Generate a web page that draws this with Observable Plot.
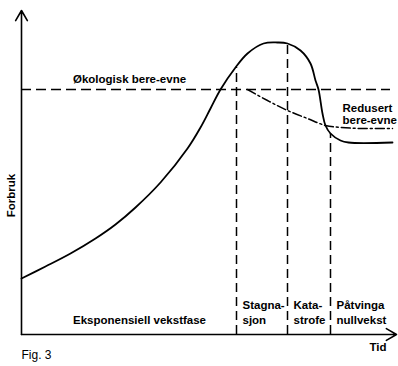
<!DOCTYPE html>
<html><head><meta charset="utf-8">
<script src="https://cdn.jsdelivr.net/npm/d3@7"></script>
<script src="https://cdn.jsdelivr.net/npm/@observablehq/plot@0.6"></script>
<style>body{margin:0;background:#fff}</style>
</head><body><div id="chart"></div>
<script>
// Consumption curve (Tid, Forbruk) in arbitrary units
const curveTid = [0,24,49,74,94,114,139,166,179,189,199,214,226,242,256,266,279,289,294,297,301,304,309,319,327,371];
const curveForbruk = [56,68,81,96,110,127,152,186,207,226,245,267,281,291,292,291,284,271,254,245,221,209,201,194,192,192];
// Ecological carrying capacity
const capacityLevel = 245;
const capacityEnd = 369;
// Reduced carrying capacity
const reducedTid = [226,246,266,286,304,320,340,371];
const reducedForbruk = [245,234,224,216,209,207,206,206];
// Phase boundaries and where they meet the curve
const phaseBoundaries = [215,266,309];
const boundaryTops = [267,291,201];
const phaseNames = ["Eksponensiell vekstfase","Stagna-\nsjon","Kata-\nstrofe","Påtvinga\nnullvekst"];
const phaseStarts = [0,215,266,309];
// Axis extents
const tidMax = 375;
const forbrukMax = 324;

const curve = curveTid.map((t,i)=>({t, f: curveForbruk[i]}));
const reduced = reducedTid.map((t,i)=>({t, f: reducedForbruk[i]}));
const bounds = phaseBoundaries.map((t,i)=>({t, top: boundaryTops[i]}));
const firstPhase = [{name: phaseNames[0], t: 118}];
const laterPhases = phaseNames.slice(1).map((name,i)=>({name, t: phaseStarts[i+1]+6}));

const ink = "#000";
const font = 11.5;
const chart = Plot.plot({
  width: 398, height: 366,
  marginLeft: 21, marginRight: 7, marginTop: 10, marginBottom: 32,
  x: {domain: [0, 370], axis: null},
  y: {domain: [0, 324], axis: null},
  style: {fontFamily: "'Liberation Sans', Arial, sans-serif", fontSize: "11px", color: ink, background: "#fff"},
  marks: [
    Plot.arrow([0], {x1: 0, y1: 0, x2: 0, y2: forbrukMax, stroke: ink, strokeWidth: 1.6, headLength: 11, headAngle: 60}),
    Plot.arrow([0], {x1: 0, y1: 0, x2: tidMax, y2: 0, stroke: ink, strokeWidth: 1.6, headLength: 11, headAngle: 60}),
    Plot.ruleY([capacityLevel], {x1: 0, x2: capacityEnd, stroke: ink, strokeWidth: 1.4, strokeDasharray: "10,5"}),
    Plot.ruleX(bounds, {x: "t", y1: 0, y2: "top", stroke: ink, strokeWidth: 1.5, strokeDasharray: "9,5"}),
    Plot.line(reduced, {x: "t", y: "f", curve: "catmull-rom", stroke: ink, strokeWidth: 1.5, strokeDasharray: "9,3,2,3"}),
    Plot.line(curve, {x: "t", y: "f", curve: "catmull-rom", stroke: ink, strokeWidth: 1.8}),
    Plot.text(["Økologisk bere-evne"], {x: 108, y: 252, text: d => d, textAnchor: "middle", lineAnchor: "bottom", fontWeight: "bold", fontSize: font, fill: ink}),
    Plot.text(["Redusert\nbere-evne"], {x: 321, y: 211, text: d => d, textAnchor: "start", lineAnchor: "bottom", lineHeight: 1, fontWeight: "bold", fontSize: font, fill: ink}),
    Plot.text(firstPhase, {x: "t", y: 11, text: "name", textAnchor: "middle", lineAnchor: "bottom", fontWeight: "bold", fontSize: font, fill: ink}),
    Plot.text(laterPhases, {x: "t", y: 11, text: "name", textAnchor: "start", lineAnchor: "bottom", lineHeight: 1.25, fontWeight: "bold", fontSize: font, fill: ink}),
    Plot.text(["Forbruk"], {x: -10, y: 139, text: d => d, rotate: -90, textAnchor: "middle", lineAnchor: "middle", fontWeight: "bold", fontSize: font, fill: ink}),
    Plot.text(["Tid"], {x: 348, y: -16, text: d => d, textAnchor: "start", lineAnchor: "bottom", fontWeight: "bold", fontSize: font, fill: ink}),
    Plot.text(["Fig. 3"], {x: 0, y: -24, text: d => d, textAnchor: "start", lineAnchor: "bottom", fontSize: 12, fill: ink})
  ]
});
document.getElementById("chart").append(chart);
</script></body></html>
